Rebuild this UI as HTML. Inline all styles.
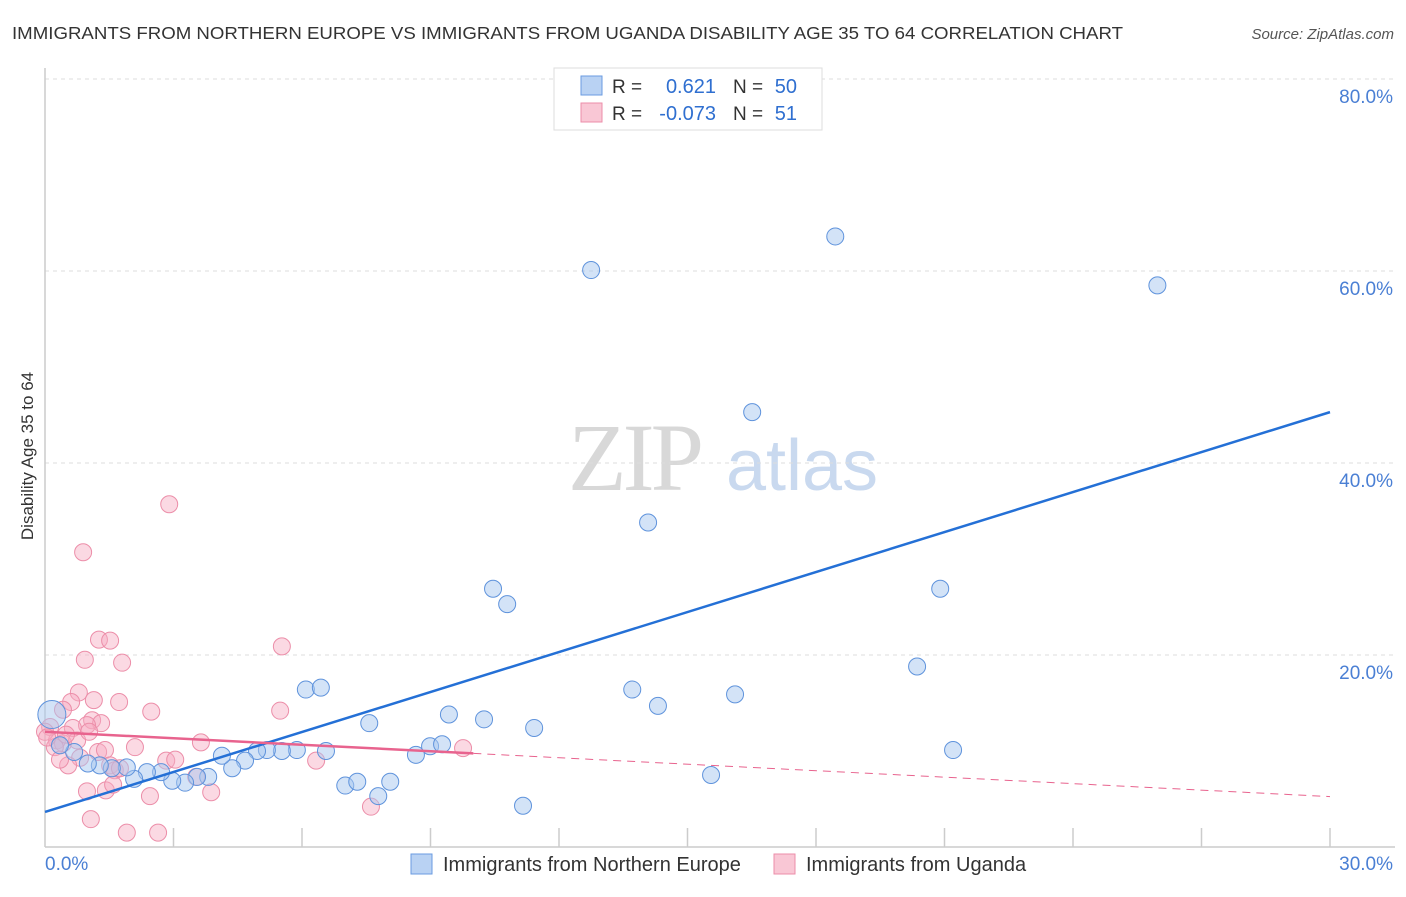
<!DOCTYPE html>
<html><head><meta charset="utf-8"><style>
body{margin:0;background:#fff;font-family:"Liberation Sans",sans-serif}
</style></head><body>
<svg width="1406" height="892" viewBox="0 0 1406 892" xmlns="http://www.w3.org/2000/svg" font-family="Liberation Sans, sans-serif">
<text x="12" y="39" font-size="17.5" fill="#333" textLength="1111" lengthAdjust="spacingAndGlyphs">IMMIGRANTS FROM NORTHERN EUROPE VS IMMIGRANTS FROM UGANDA DISABILITY AGE 35 TO 64 CORRELATION CHART</text>
<text x="1394" y="39" font-size="15" fill="#555" text-anchor="end" font-style="italic">Source: ZipAtlas.com</text>
<text transform="translate(33,456) rotate(-90)" font-size="17" fill="#333" text-anchor="middle">Disability Age 35 to 64</text>
<g>
<text x="634" y="490" font-size="96" fill="#d8d8d8" text-anchor="middle" style="font-family:'Liberation Serif',serif" letter-spacing="-4">ZIP</text>
<text x="802" y="490" font-size="72" fill="#c9d9ef" text-anchor="middle">atlas</text>
</g>
<g id="grid"></g><g id="axes"></g><g id="marks"></g>
<g>
<rect x="554" y="68" width="268" height="62" fill="#fff" stroke="#ddd"/>
<rect x="581" y="76" width="21" height="19" fill="#b9d2f3" stroke="#6a9be0"/>
<rect x="581" y="103" width="21" height="19" fill="#f9c7d5" stroke="#ec8ea9"/>
<text x="612" y="93" font-size="19" fill="#333">R =</text><text x="716" y="93" font-size="20" fill="#2f6fd0" text-anchor="end">0.621</text>
<text x="733" y="93" font-size="19" fill="#333">N =</text><text x="797" y="93" font-size="20" fill="#2f6fd0" text-anchor="end">50</text>
<text x="612" y="120" font-size="19" fill="#333">R =</text><text x="716" y="120" font-size="20" fill="#2f6fd0" text-anchor="end">-0.073</text>
<text x="733" y="120" font-size="19" fill="#333">N =</text><text x="797" y="120" font-size="20" fill="#2f6fd0" text-anchor="end">51</text>
</g>
<g>
<rect x="411" y="854" width="21" height="20" fill="#b9d2f3" stroke="#6a9be0"/>
<text x="443" y="871" font-size="20" fill="#333">Immigrants from Northern Europe</text>
<rect x="774" y="854" width="21" height="20" fill="#f9c7d5" stroke="#ec8ea9"/>
<text x="806" y="871" font-size="20" fill="#333">Immigrants from Uganda</text>
</g>
</svg>
<script>
const yTicks=[20,40,60,80];
const yTickLabels=["20.0%","40.0%","60.0%","80.0%"];
const xTickVals=[3,6,9,12,15,18,21,24,27,30];
const xEndLabels=["0.0%","30.0%"];
const blueX=[12.75,18.45,25.97,16.51,14.08,20.90,10.46,10.79,20.36,13.71,14.31,16.11,6.09,6.44,9.43,10.25,11.42,7.57,21.20,15.55,11.16,8.66,8.99,9.27,6.56,5.88,5.53,5.18,4.95,4.67,4.37,4.13,3.81,3.55,3.27,2.97,2.71,2.38,2.08,1.91,1.56,1.28,1.00,0.68,0.35,0.16,7.01,7.29,7.78,8.06];
const blueY=[60.1,63.6,58.5,45.3,33.8,26.9,26.9,25.3,18.8,16.4,14.7,15.9,16.4,16.6,13.8,13.3,12.4,12.9,10.1,7.5,4.3,9.6,10.5,10.7,10.0,10.1,10.0,10.1,10.0,9.0,8.2,9.5,7.3,7.3,6.7,6.9,7.8,7.8,7.1,8.3,8.2,8.5,8.7,9.9,10.6,13.8,6.4,6.8,5.3,6.8];
const pinkX=[2.90,0.89,1.26,1.52,5.53,0.93,1.80,0.79,1.14,0.61,1.73,2.48,5.49,0.42,1.10,1.31,0.98,0.65,0.12,0.28,0.42,0.75,0.23,1.24,1.40,2.10,3.64,0.82,0.54,1.52,2.83,1.63,6.33,0.98,1.42,1.59,2.45,3.53,3.88,1.07,1.91,2.64,9.76,7.61,0.0,0.35,1.03,1.75,0.05,0.49,3.04];
const pinkY=[35.7,30.7,21.6,21.5,20.9,19.5,19.2,16.1,15.3,15.1,15.1,14.1,14.2,14.3,13.2,12.9,12.7,12.4,12.5,11.1,10.8,11.1,10.4,9.9,10.1,10.4,10.9,9.3,8.5,8.5,9.0,8.0,9.0,5.8,5.9,6.5,5.3,7.3,5.7,2.9,1.5,1.5,10.3,4.2,12.0,9.1,12.0,8.2,11.4,11.7,9.1];
const blueTrend=[3.65,45.3];
const pinkTrend=[12.0,5.25];
const pinkSolidEnd=10;
const X=v=>45+v/30*1285, Y=v=>847-v*9.6;
const NS="http://www.w3.org/2000/svg";
function mk(tag,attrs,parent){const e=document.createElementNS(NS,tag);for(const k in attrs)e.setAttribute(k,attrs[k]);document.getElementById(parent).appendChild(e);return e;}
yTicks.forEach((t,i)=>{
 const l=mk('line',{x1:45,x2:1395,y1:Y(t),y2:Y(t),stroke:'#ddd','stroke-dasharray':'4,4'},'grid');
 
 
 const tx=mk('text',{x:1393,y:Y(t)+24,'font-size':19,fill:'#4a7fd4','text-anchor':'end'},'grid');
 tx.textContent=yTickLabels[i];
 
 
});
const ax=mk('line',{x1:45,x2:1395,y1:847,y2:847,stroke:'#ccc','stroke-width':1.5},'axes');


const ay=mk('line',{x1:45,x2:45,y1:68,y2:847,stroke:'#ccc','stroke-width':1.5},'axes');


xTickVals.forEach(v=>{const t=mk('line',{x1:X(v),x2:X(v),y1:828,y2:847,stroke:'#ccc','stroke-width':1.5},'axes');
 
 });
[[0,'start',45],[30,'end',1393]].forEach((d,i)=>{const t=mk('text',{x:d[2],y:870,'font-size':19,fill:'#4a7fd4','text-anchor':d[1]},'axes');t.textContent=xEndLabels[i];
 
 });
pinkX.forEach((x,i)=>{const c=mk('circle',{cx:X(x),cy:Y(pinkY[i]),r:8.5,fill:'rgba(246,170,192,0.45)',stroke:'#ec8ea9','stroke-width':1},'marks');
 
 });
blueX.forEach((x,i)=>{const c=mk('circle',{cx:X(x),cy:Y(blueY[i]),r:i==45?14:8.5,fill:'rgba(168,200,240,0.5)',stroke:'#5f93dc','stroke-width':1},'marks');
 
 });
const bl=mk('line',{x1:X(0),y1:Y(blueTrend[0]),x2:X(30),y2:Y(blueTrend[1]),stroke:'#2470d6','stroke-width':2.5},'marks');


const pY=x=>pinkTrend[0]+(pinkTrend[1]-pinkTrend[0])*x/30;
const ps=mk('line',{x1:X(0),y1:Y(pY(0)),x2:X(pinkSolidEnd),y2:Y(pY(pinkSolidEnd)),stroke:'#e8638e','stroke-width':2.5},'marks');


const pd=mk('line',{x1:X(pinkSolidEnd),y1:Y(pY(pinkSolidEnd)),x2:X(30),y2:Y(pY(30)),stroke:'#e8638e','stroke-width':1,'stroke-dasharray':'8,6'},'marks');


</script>
</body></html>
